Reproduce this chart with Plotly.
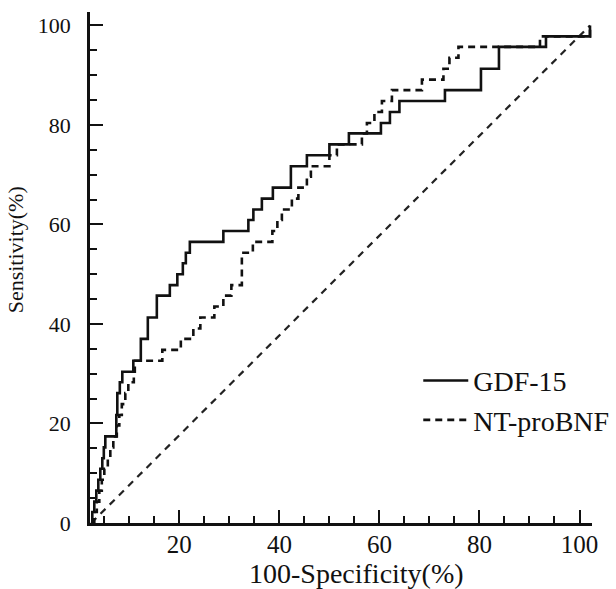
import plotly.graph_objects as go

# GDF-15 ROC staircase (x = 100-Specificity %, y = Sensitivity %)
gdf_x = [2.4, 2.6, 3.0, 3.4, 3.8, 4.2, 4.6, 4.9, 5.2, 7.4, 7.4, 7.6, 7.6, 8.1, 8.6, 10.8,
         12.3, 12.3, 13.7, 13.7, 15.5, 15.5, 18.1, 19.6, 20.7, 21.3, 22.1, 28.8, 33.8, 34.8,
         36.5, 38.7, 42.3, 42.3, 45.5, 50.0, 53.9, 60.3, 62.1, 64.0, 73.1, 80.3, 80.3, 83.9,
         83.9, 93.3, 102.1]
gdf_y = [0.0, 2.2, 4.3, 6.5, 8.7, 10.9, 13.0, 15.2, 17.4, 19.6, 21.7, 23.9, 26.1, 28.3, 30.4, 32.6,
         34.8, 37.0, 39.1, 41.3, 43.5, 45.7, 47.8, 50.0, 52.2, 54.3, 56.5, 58.7, 60.9, 63.0,
         65.2, 67.4, 69.6, 71.7, 73.9, 76.1, 78.3, 80.4, 82.6, 84.8, 87.0, 89.1, 91.3, 93.5,
         95.7, 97.8, 100.0]

# NT-proBNF ROC staircase
bnp_x = [2.6, 3.0, 3.5, 4.0, 4.5, 5.0, 5.7, 6.2, 6.8, 7.5, 8.0, 8.5, 9.2, 9.8, 10.9, 11.1,
         16.6, 20.3, 22.8, 24.2, 27.0, 28.8, 30.4, 32.5, 32.5, 32.5, 34.7, 38.6, 39.6, 40.5,
         42.5, 43.8, 45.5, 46.3, 50.0, 51.5, 56.5, 57.5, 59.0, 60.5, 62.5, 68.5, 72.8, 74.0,
         75.8, 92.1, 102.1]
bnp_y = [0.0, 2.2, 4.3, 6.5, 8.7, 10.9, 13.0, 15.2, 17.4, 19.6, 21.7, 23.9, 26.1, 28.3, 30.4, 32.6,
         34.8, 37.0, 39.1, 41.3, 43.5, 45.7, 47.8, 50.0, 52.2, 54.3, 56.5, 58.7, 60.9, 63.0,
         65.2, 67.4, 69.6, 71.7, 73.9, 76.1, 78.3, 80.4, 82.6, 84.8, 87.0, 89.1, 91.3, 93.5,
         95.7, 97.8, 100.0]

# reference diagonal
diag_x = [2.4, 102.1]
diag_y = [0.0, 100.0]

x_ticks = [20, 40, 60, 80, 100]
y_ticks = [0, 20, 40, 60, 80, 100]

FONT = "Liberation Serif"

fig = go.Figure()
fig.add_trace(go.Scatter(x=diag_x, y=diag_y, mode="lines", showlegend=False,
                         line=dict(color="#222", width=2.2, dash="7px,6px"), hoverinfo="skip"))
fig.add_trace(go.Scatter(x=bnp_x, y=bnp_y, mode="lines", name="NT-proBNF", line_shape="hv",
                         line=dict(color="#111", width=2.6, dash="7px,5px")))
fig.add_trace(go.Scatter(x=gdf_x, y=gdf_y, mode="lines", name="GDF-15", line_shape="hv",
                         line=dict(color="#111", width=2.6)))

fig.update_layout(
    width=616, height=589,
    margin=dict(l=90, r=24, t=12, b=66, autoexpand=False),
    paper_bgcolor="white", plot_bgcolor="white",
    font=dict(family=FONT, color="#111"),
    showlegend=True,
    legend=dict(xref="container", yref="container", x=0.679, y=0.396,
                xanchor="left", yanchor="top", traceorder="reversed",
                font=dict(size=28, family=FONT, color="#111"), bgcolor="rgba(0,0,0,0)",
                itemwidth=45, tracegroupgap=0),
    xaxis=dict(range=[2.14, 102.5], tickvals=x_ticks, ticks="inside", ticklen=13, tickwidth=2,
               tickcolor="#111", showline=True, linewidth=3, linecolor="#111", showgrid=False,
               zeroline=False, tickfont=dict(size=25, family=FONT), ticklabelstandoff=-3,
               automargin=False,
               minor=dict(ticks="inside", ticklen=7, tickwidth=2, tickcolor="#111", dtick=5, tick0=0,
                          showgrid=False)),
    yaxis=dict(range=[0, 102.7], tickvals=y_ticks, ticks="inside", ticklen=13, tickwidth=2,
               tickcolor="#111", showline=True, linewidth=2.5, linecolor="#111", showgrid=False,
               zeroline=False, tickfont=dict(size=22, family=FONT), ticklabelstandoff=12,
               automargin=False,
               minor=dict(ticks="inside", ticklen=7, tickwidth=2, tickcolor="#111", dtick=5, tick0=0,
                          showgrid=False)),
    annotations=[
        dict(text="100-Specificity(%)", xref="paper", yref="paper", x=0.53, y=-0.098,
             xanchor="center", yanchor="middle", showarrow=False,
             font=dict(size=28, family=FONT, color="#111")),
        dict(text="Sensitivity(%)", xref="paper", yref="paper", x=-0.149, y=0.534,
             xanchor="center", yanchor="middle", showarrow=False, textangle=-90,
             font=dict(size=22, family=FONT, color="#111")),
    ],
)

fig.write_html("out.html", config={"displayModeBar": False},
               post_script="document.body.style.margin='0';document.body.style.overflow='hidden';")
